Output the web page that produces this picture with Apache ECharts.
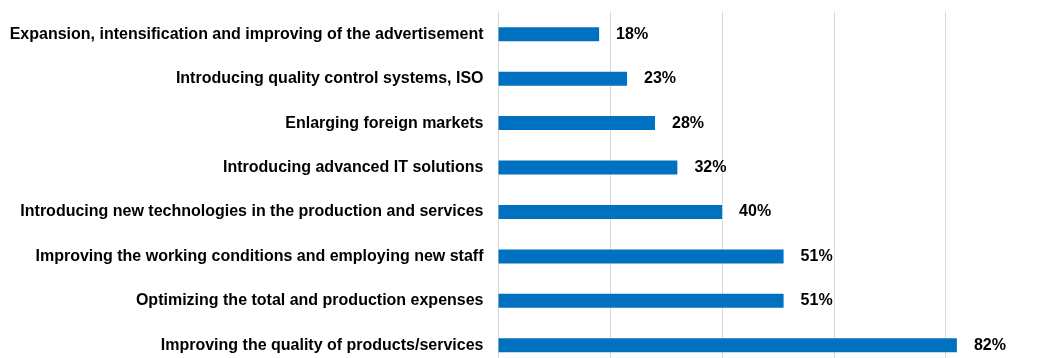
<!DOCTYPE html>
<html>
<head>
<meta charset="utf-8">
<script src="https://cdn.jsdelivr.net/npm/echarts@6/dist/echarts.min.js"></script>
<style>
  html, body { margin: 0; padding: 0; background: #ffffff; overflow: hidden; }
  /* the drawing area is a bit larger than the window; its right and bottom edges are clipped */
  #chart { width: 1060px; height: 370px; }
</style>
</head>
<body>
<div id="chart"></div>
<script>
// Measures taken by companies, share of respondents (%)
const categories = [
  'Expansion, intensification and improving of the advertisement',
  'Introducing quality control systems, ISO',
  'Enlarging foreign markets',
  'Introducing advanced IT solutions',
  'Introducing new technologies in the production and services',
  'Improving the working conditions and employing new staff',
  'Optimizing the total and production expenses',
  'Improving the quality of products/services'
];
const shares = [18, 23, 28, 32, 40, 51, 51, 82];
const axisTicks = [0, 20, 40, 60, 80, 100];

const chart = echarts.init(document.getElementById('chart'), null, { renderer: 'canvas' });
const font = 'Arial, "Liberation Sans", sans-serif';

chart.setOption({
  animation: false,
  backgroundColor: '#ffffff',
  grid: { left: 498.5, right: 2.5, top: 12, bottom: 2.5, containLabel: false },
  xAxis: {
    type: 'value',
    min: axisTicks[0],
    max: axisTicks[axisTicks.length - 1],
    interval: axisTicks[1] - axisTicks[0],
    axisLabel: { show: false },
    axisLine: { show: false },
    axisTick: { show: false },
    splitLine: { show: true, lineStyle: { color: '#D9D9D9', width: 1 } }
  },
  yAxis: {
    type: 'category',
    data: categories,
    inverse: true,
    axisLine: { show: true, lineStyle: { color: '#D9D9D9', width: 1 } },
    axisTick: { show: false },
    axisLabel: {
      margin: 15,
      color: '#000000',
      fontFamily: font,
      fontWeight: 'bold',
      fontSize: 16
    }
  },
  series: [{
    type: 'bar',
    data: shares,
    barWidth: 14,
    itemStyle: { color: '#0070C0' },
    label: {
      show: true,
      position: 'right',
      distance: 17,
      formatter: p => p.value + '%',
      color: '#000000',
      fontFamily: font,
      fontWeight: 'bold',
      fontSize: 16
    }
  }]
});
</script>
</body>
</html>
